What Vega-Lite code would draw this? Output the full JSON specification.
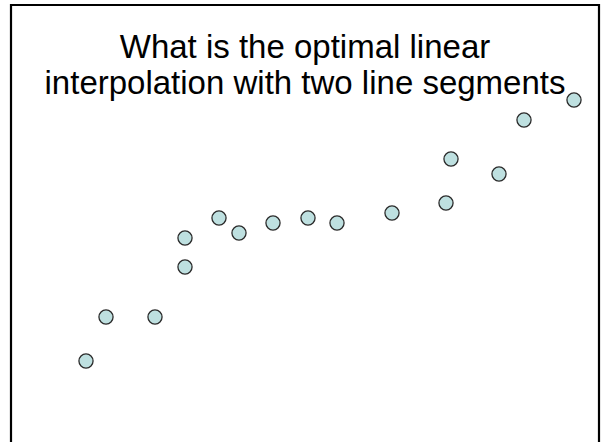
{
  "$schema": "https://vega.github.io/schema/vega-lite/v6.json",
  "autosize": {"type": "none"},
  "width": 588,
  "height": 450,
  "padding": {"left": 11, "top": 5, "right": 5, "bottom": 0},
  "background": "white",
  "config": {
    "view": {"stroke": "#000000", "strokeWidth": 2.2},
    "font": "Liberation Sans"
  },
  "title": {
    "text": ["What is the optimal linear", "interpolation with two line segments"],
    "font": "Liberation Sans",
    "fontSize": 33,
    "fontWeight": "normal",
    "color": "#000000",
    "lineHeight": 36,
    "anchor": "middle",
    "baseline": "top",
    "offset": -96
  },
  "data": {
    "values": [
      {"x": 75, "y": 94},
      {"x": 95, "y": 138},
      {"x": 144, "y": 138},
      {"x": 174, "y": 188},
      {"x": 174, "y": 217},
      {"x": 208, "y": 237},
      {"x": 228, "y": 222},
      {"x": 262, "y": 232},
      {"x": 297, "y": 237},
      {"x": 326, "y": 232},
      {"x": 381, "y": 242},
      {"x": 435, "y": 252},
      {"x": 440, "y": 296},
      {"x": 488, "y": 281},
      {"x": 513, "y": 335},
      {"x": 563, "y": 355}
    ]
  },
  "mark": {
    "type": "point",
    "shape": "circle",
    "filled": true,
    "fill": "#BEE0E0",
    "stroke": "#2a2a2a",
    "strokeWidth": 1.3,
    "opacity": 1,
    "size": 200
  },
  "encoding": {
    "x": {"field": "x", "type": "quantitative", "scale": {"domain": [0, 588], "nice": false, "zero": false}, "axis": null},
    "y": {"field": "y", "type": "quantitative", "scale": {"domain": [0, 450], "nice": false, "zero": false}, "axis": null}
  }
}
